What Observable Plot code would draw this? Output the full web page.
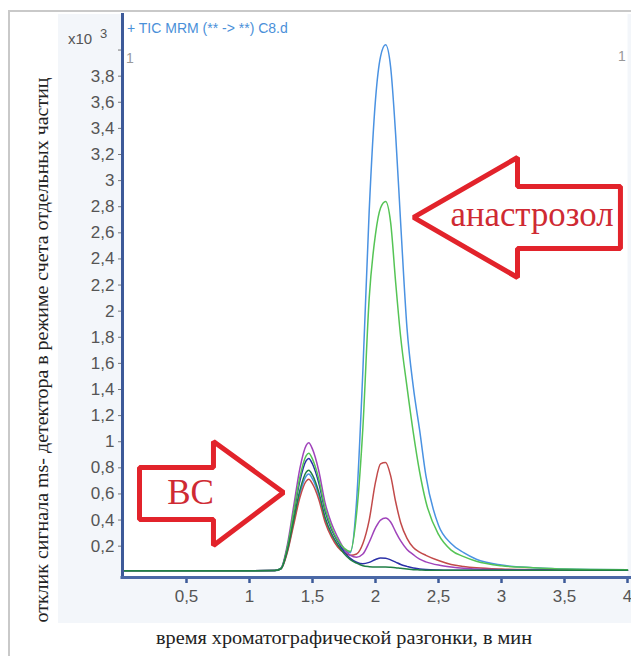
<!DOCTYPE html>
<html>
<head>
<meta charset="utf-8">
<script src="https://cdn.jsdelivr.net/npm/d3@7"></script>
<script src="https://cdn.jsdelivr.net/npm/@observablehq/plot@0.6"></script>
<style>
  html, body { margin: 0; padding: 0; background: #ffffff; }
  #wrap { position: relative; width: 631px; height: 656px; overflow: hidden; font-family: "Liberation Sans", Arial, sans-serif; }
  #border { position: absolute; left: 8px; top: 10px; width: 660px; height: 700px; border: 2.5px solid #c9c9c9; box-sizing: border-box; }
  #panel { position: absolute; left: 58px; top: 14px; width: 620px; height: 609px; background: #f3f6fa; }
  #chart { position: absolute; left: 0; top: 0; }
  #overlay { position: absolute; left: 0; top: 0; pointer-events: none; }
</style>
</head>
<body>
<div id="wrap">
  <div id="border"></div>
  <div id="panel"></div>
  <div id="chart"></div>
  <svg id="overlay" width="631" height="656"></svg>
</div>
<script>
// ---- data (time in minutes, response ×10^3 counts) ----
const time = [0, 0.5, 1.0, 1.2, 1.25, 1.3, 1.35, 1.4, 1.45, 1.47, 1.5, 1.55, 1.6, 1.65, 1.7, 1.75, 1.8, 1.85, 1.9, 1.95,
              2.0, 2.04, 2.08, 2.12, 2.16, 2.2, 2.25, 2.3, 2.35, 2.4, 2.5, 2.6, 2.7, 2.8, 3.0, 3.25, 3.5, 4.0];

const blueSeries = [0.012, 0.012, 0.012, 0.013, 0.027, 0.16, 0.38, 0.60, 0.737, 0.752, 0.715, 0.59, 0.404, 0.286, 0.204, 0.17, 0.15, 0.55, 1.55, 2.77,
                    3.62, 3.95, 4.04, 3.87, 3.35, 2.67, 1.87, 1.42, 1.09, 0.74, 0.36, 0.22, 0.15, 0.10, 0.055, 0.035, 0.025, 0.02];
const greenSeries = [0.012, 0.012, 0.012, 0.013, 0.03, 0.19, 0.46, 0.73, 0.894, 0.912, 0.867, 0.714, 0.49, 0.345, 0.246, 0.185, 0.16, 0.45, 1.11, 2.1,
                     2.59, 2.79, 2.84, 2.68, 2.22, 1.8, 1.42, 1.07, 0.77, 0.54, 0.29, 0.17, 0.12, 0.085, 0.05, 0.035, 0.025, 0.02];
const redSeries = [0.012, 0.012, 0.012, 0.013, 0.026, 0.152, 0.362, 0.572, 0.698, 0.712, 0.677, 0.558, 0.383, 0.271, 0.194, 0.15, 0.13, 0.14, 0.22, 0.40,
                   0.69, 0.83, 0.84, 0.74, 0.54, 0.38, 0.26, 0.19, 0.155, 0.13, 0.09, 0.06, 0.045, 0.035, 0.025, 0.02, 0.018, 0.015];
const purpleSeries = [0.012, 0.012, 0.012, 0.013, 0.032, 0.208, 0.502, 0.796, 0.972, 0.992, 0.943, 0.776, 0.531, 0.375, 0.267, 0.18, 0.13, 0.116, 0.14, 0.23,
                      0.34, 0.40, 0.415, 0.385, 0.31, 0.24, 0.175, 0.135, 0.10, 0.08, 0.055, 0.04, 0.03, 0.025, 0.02, 0.018, 0.016, 0.015];
const darkBlueSeries = [0.012, 0.012, 0.012, 0.013, 0.03, 0.184, 0.442, 0.70, 0.855, 0.872, 0.829, 0.683, 0.468, 0.33, 0.236, 0.158, 0.107, 0.077, 0.065, 0.076,
                        0.098, 0.11, 0.108, 0.095, 0.078, 0.06, 0.045, 0.032, 0.026, 0.022, 0.018, 0.016, 0.015, 0.015, 0.015, 0.015, 0.015, 0.015];
const darkGreenSeries = [0.012, 0.012, 0.012, 0.013, 0.027, 0.166, 0.397, 0.628, 0.767, 0.782, 0.744, 0.613, 0.42, 0.297, 0.212, 0.143, 0.097, 0.07, 0.05, 0.043,
                         0.04, 0.04, 0.04, 0.038, 0.035, 0.03, 0.025, 0.02, 0.018, 0.016, 0.015, 0.015, 0.015, 0.015, 0.015, 0.015, 0.015, 0.015];

const seriesNames = ["blue", "red", "purple", "darkblue", "green", "darkgreen"];
const seriesValues = [blueSeries, redSeries, purpleSeries, darkBlueSeries, greenSeries, darkGreenSeries];
const seriesColors = ["#4a92e2", "#c24a4a", "#a044bb", "#2b30a8", "#55c455", "#1f7f45"];

const xTickValues = [0.5, 1, 1.5, 2, 2.5, 3, 3.5, 4];
const xTickLabels = ["0,5", "1", "1,5", "2", "2,5", "3", "3,5", "4"];
const yTickValues = [0.2, 0.4, 0.6, 0.8, 1, 1.2, 1.4, 1.6, 1.8, 2, 2.2, 2.4, 2.6, 2.8, 3, 3.2, 3.4, 3.6, 3.8, 4];
const yTickLabels = ["0,2", "0,4", "0,6", "0,8", "1", "1,2", "1,4", "1,6", "1,8", "2", "2,2", "2,4", "2,6", "2,8", "3", "3,2", "3,4", "3,6", "3,8", ""];

// annotation arrows (in data units: minutes, ×10^3)
const bcArrowX = [0.127, 0.714, 0.714, 1.270, 0.714, 0.714, 0.127];
const bcArrowY = [0.803, 0.803, 1.002, 0.611, 0.205, 0.404, 0.404];
const anaArrowX = [2.302, 3.127, 3.127, 3.944, 3.944, 3.127, 3.127];
const anaArrowY = [2.718, 3.177, 2.955, 2.955, 2.480, 2.480, 2.258];
const annotations = [
  {label: "BC", t: 0.532, v: 0.611},
  {label: "анастрозол", t: 3.242, v: 2.741}
];

// ---- build ----
const rows = seriesNames.flatMap((name, k) => time.map((t, i) => ({t, v: seriesValues[k][i], name})));
const bcArrow = bcArrowX.map((t, i) => ({t, v: bcArrowY[i]}));
const anaArrow = anaArrowX.map((t, i) => ({t, v: anaArrowY[i]}));

const navy = "#3d5a99";
const arrowRed = "#e2232b";
const textRed = "#cf2a33";
const serif = "'Liberation Serif', 'Times New Roman', serif";

const lineMarks = seriesNames.map((name, k) =>
  Plot.line(rows.filter(d => d.name === name), {x: "t", y: "v", stroke: seriesColors[k], strokeWidth: 1.5, curve: "monotone-x"})
);

const chart = Plot.plot({
  width: 631,
  height: 656,
  marginLeft: 123,
  marginRight: 4,
  marginTop: 13,
  marginBottom: 79,
  x: {domain: [0, 4]},
  y: {domain: [-0.04, 4.28]},
  style: {background: "transparent", fontFamily: "'Liberation Sans', Arial, sans-serif", fontSize: "17px", overflow: "visible"},
  marks: [
    Plot.frame({fill: "white", stroke: "none"}),
    Plot.axisY({ticks: yTickValues, tickFormat: d => yTickLabels[yTickValues.indexOf(d)], tickSize: 5, tickPadding: 4, stroke: "#777", fill: "#555", label: null}),
    Plot.axisX({ticks: xTickValues, tickFormat: d => xTickLabels[xTickValues.indexOf(d)], tickSize: 6, tickPadding: 6, stroke: navy, strokeWidth: 2.5, fill: "#555", label: null}),
    ...lineMarks,
    Plot.ruleX([0], {stroke: navy, strokeWidth: 3, dx: -1}),
    Plot.ruleY([-0.04], {x1: -0.02, x2: 4.1, stroke: "#4a68a6", strokeWidth: 3}),
    Plot.line(bcArrow, {x: "t", y: "v", curve: "linear-closed", stroke: arrowRed, strokeWidth: 5, fill: "white", strokeLinejoin: "miter"}),
    Plot.line(anaArrow, {x: "t", y: "v", curve: "linear-closed", stroke: arrowRed, strokeWidth: 5, fill: "white", strokeLinejoin: "miter"}),
    Plot.text(annotations, {x: "t", y: "v", text: "label", fill: textRed, fontSize: 36, fontFamily: serif})
  ]
});
document.getElementById("chart").appendChild(chart);

// annotation text styling like in the original
d3.select(chart).selectAll("text").filter(function() { return this.textContent === "анастрозол"; })
  .attr("font-family", serif).style("font-family", serif)
  .attr("textLength", 163).attr("lengthAdjust", "spacingAndGlyphs").style("font-size", "36px");
d3.select(chart).selectAll("text").filter(function() { return this.textContent === "BC"; })
  .attr("font-family", serif).style("font-family", serif).style("font-size", "35px");

// ---- overlay texts ----
const ov = d3.select("#overlay");
ov.append("text").attr("x", 68).attr("y", 44).attr("font-size", 15).attr("fill", "#555")
  .attr("font-family", "'Liberation Sans', Arial, sans-serif").text("x10");
ov.append("text").attr("x", 100).attr("y", 38).attr("font-size", 13).attr("fill", "#555")
  .attr("font-family", "'Liberation Sans', Arial, sans-serif").text("3");
ov.append("text").attr("x", 127).attr("y", 33).attr("font-size", 14).attr("fill", "#4a90d9")
  .attr("font-family", "'Liberation Sans', Arial, sans-serif").text("+ TIC MRM (** -> **) C8.d");
ov.append("text").attr("x", 126).attr("y", 63).attr("font-size", 14).attr("fill", "#999")
  .attr("font-family", "'Liberation Sans', Arial, sans-serif").text("1");
ov.append("text").attr("x", 618).attr("y", 61).attr("font-size", 14).attr("fill", "#999")
  .attr("font-family", "'Liberation Sans', Arial, sans-serif").text("1");
ov.append("text").attr("transform", "translate(48,350) rotate(-90)").attr("text-anchor", "middle")
  .attr("font-size", 19).attr("fill", "#222").attr("font-family", serif)
  .attr("textLength", 545).attr("lengthAdjust", "spacingAndGlyphs")
  .text("отклик сигнала ms- детектора в режиме счета отдельных частиц");
ov.append("text").attr("x", 344).attr("y", 644).attr("text-anchor", "middle")
  .attr("font-size", 19).attr("fill", "#222").attr("font-family", serif)
  .attr("textLength", 376).attr("lengthAdjust", "spacingAndGlyphs")
  .text("время хроматографической разгонки, в мин");
</script>
</body>
</html>
